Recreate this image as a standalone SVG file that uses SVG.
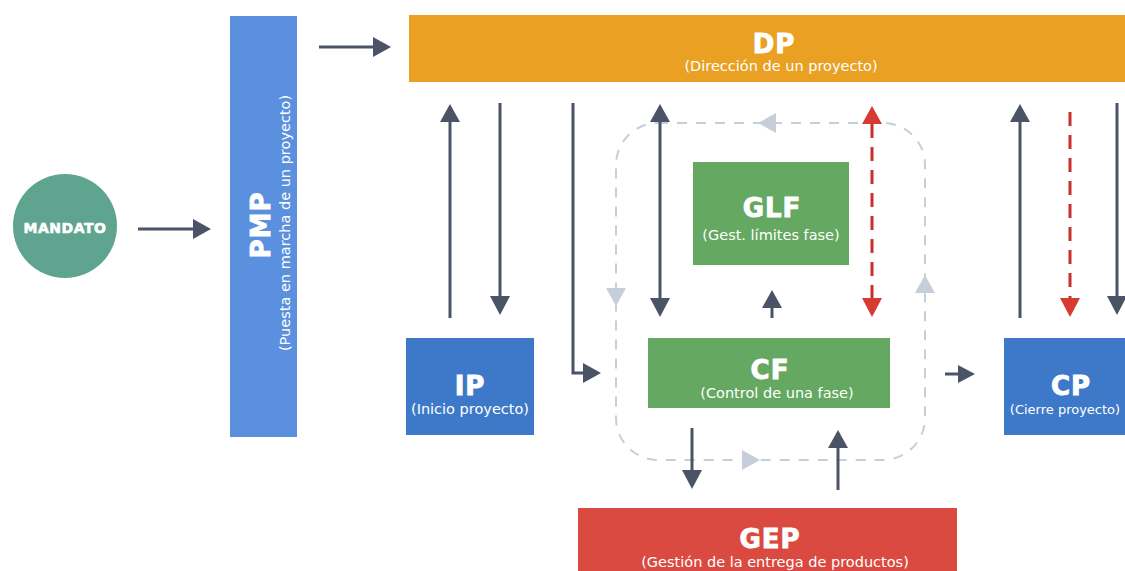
<svg xmlns="http://www.w3.org/2000/svg" width="1125" height="571" viewBox="0 0 1125 571">
<defs>
<style>
.t{font-family:"DejaVu Sans","Liberation Sans",sans-serif;font-weight:bold;fill:#fff;stroke:#fff;stroke-width:0.9;text-anchor:middle;font-size:26px;letter-spacing:1px}
.s{font-family:"DejaVu Sans","Liberation Sans",sans-serif;fill:#fff;text-anchor:middle;font-size:14.5px}
.dk{stroke:#4b5366;stroke-width:3;fill:none}
.rd{stroke:#c8312d;stroke-width:3;fill:none;stroke-dasharray:14 9}
.lt{stroke:#c6ced9;stroke-width:2;fill:none;stroke-dasharray:10 9}
.hd{fill:#4b5366}
.hr{fill:#d63a33}
.hl{fill:#c6ced9}
</style>
</defs>
<rect width="1125" height="571" fill="#fff"/>

<g id="loop">
<rect x="616" y="123" width="309" height="337" rx="42" class="lt"/>
<path d="M776,113L758,123L776,133z" class="hl"/>
<path d="M606,288L626,288L616,306z" class="hl"/>
<path d="M742,450L760,460L742,470z" class="hl"/>
<path d="M915,293L935,293L925,275z" class="hl"/>
</g>

<g id="connectors">
<line x1="138" y1="229" x2="195" y2="229" class="dk"/><path d="M193,219L211,229L193,239z" class="hd"/>
<line x1="319" y1="47" x2="375" y2="47" class="dk"/><path d="M373,37L391,47L373,57z" class="hd"/>
<line x1="450" y1="318" x2="450" y2="120" class="dk"/><path d="M440,122L450,104L460,122z" class="hd"/>
<line x1="500" y1="103" x2="500" y2="298" class="dk"/><path d="M490,296L500,315L510,296z" class="hd"/>
<polyline points="573,103 573,373 585,373" class="dk"/><path d="M583,363L601,373L583,383z" class="hd"/>
<line x1="660" y1="120" x2="660" y2="300" class="dk"/><path d="M650,122L660,104L670,122z" class="hd"/><path d="M650,298L660,317L670,298z" class="hd"/>
<line x1="872" y1="124" x2="872" y2="298" class="rd"/><path d="M862,124L872,106L882,124z" class="hr"/><path d="M862,298L872,317L882,298z" class="hr"/>
<line x1="772" y1="318" x2="772" y2="306" class="dk"/><path d="M762,308L772,290L782,308z" class="hd"/>
<line x1="945" y1="374" x2="960" y2="374" class="dk"/><path d="M958,365L975,374L958,383z" class="hd"/>
<line x1="1020" y1="318" x2="1020" y2="120" class="dk"/><path d="M1010,122L1020,104L1030,122z" class="hd"/>
<line x1="1070" y1="112" x2="1070" y2="298" class="rd"/><path d="M1060,298L1070,317L1080,298z" class="hr"/>
<line x1="1117" y1="103" x2="1117" y2="298" class="dk"/><path d="M1107,296L1117,315L1127,296z" class="hd"/>
<line x1="692" y1="428" x2="692" y2="472" class="dk"/><path d="M682,470L692,489L702,470z" class="hd"/>
<line x1="838" y1="490" x2="838" y2="446" class="dk"/><path d="M828,448L838,430L848,448z" class="hd"/>
</g>

<g id="mandato">
<circle cx="65" cy="226" r="52" fill="#5fa48e"/>
<text x="65" y="233" class="t" style="font-size:14px;letter-spacing:0.5px;stroke-width:0.6">MANDATO</text>
</g>

<g id="pmp">
<rect x="230" y="16" width="67" height="421" fill="#5b90df"/>
<text transform="translate(270,225) rotate(-90)" class="t">PMP</text>
<text transform="translate(290,223) rotate(-90)" class="s">(Puesta en marcha de un proyecto)</text>
</g>

<g id="dp">
<rect x="409" y="15" width="720" height="67" fill="#e9a023"/>
<text x="774" y="53" class="t">DP</text>
<text x="781" y="71" class="s">(Dirección de un proyecto)</text>
</g>

<g id="ip">
<rect x="406" y="338" width="128" height="97" fill="#3e79c9"/>
<text x="470" y="395" class="t">IP</text>
<text x="470" y="414" class="s">(Inicio proyecto)</text>
</g>

<g id="glf">
<rect x="693" y="162" width="156" height="103" fill="#64a861"/>
<text x="772" y="217" class="t">GLF</text>
<text x="771" y="240" class="s">(Gest. límites fase)</text>
</g>

<g id="cf">
<rect x="648" y="338" width="242" height="70" fill="#64a861"/>
<text x="770" y="379" class="t">CF</text>
<text x="777" y="398" class="s">(Control de una fase)</text>
</g>

<g id="cp">
<rect x="1004" y="338" width="125" height="97" fill="#3e79c9"/>
<text x="1071" y="395" class="t">CP</text>
<text x="1065" y="414" class="s" style="font-size:13px">(Cierre proyecto)</text>
</g>

<g id="gep">
<rect x="578" y="508" width="379" height="70" fill="#da4a40"/>
<text x="770" y="548" class="t">GEP</text>
<text x="775" y="567" class="s">(Gestión de la entrega de productos)</text>
</g>
</svg>
